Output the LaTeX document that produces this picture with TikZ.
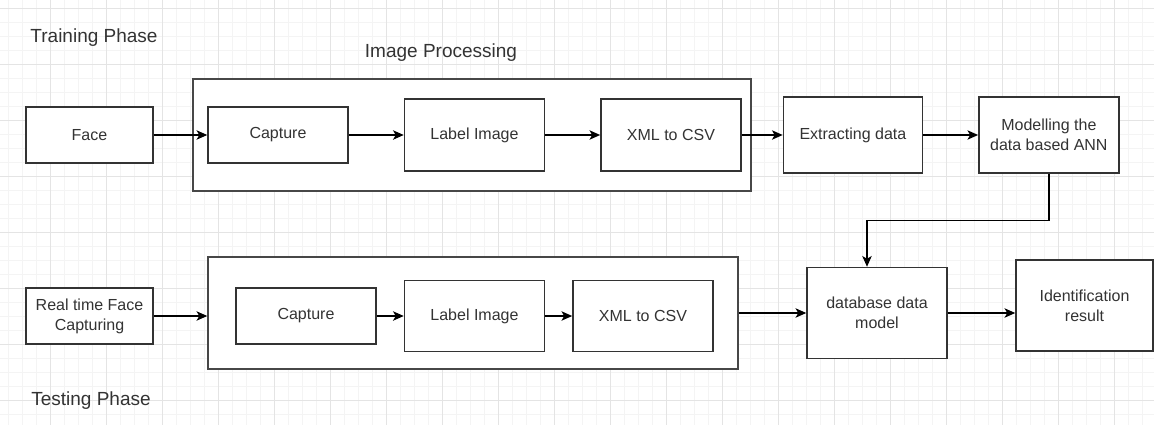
\documentclass[tikz,border=0pt]{standalone}
\usepackage{fontspec}
\setmainfont{Liberation Sans}
\usetikzlibrary{positioning, arrows.meta}
\definecolor{gridminor}{RGB}{244,244,244}
\definecolor{gridmajor}{RGB}{228,228,228}
\definecolor{boxline}{RGB}{51,51,51}
\definecolor{textgray}{RGB}{51,51,51}

\begin{document}
\begin{tikzpicture}[x=0.75pt, y=-0.75pt,
    stage/.style={rectangle, draw=boxline, line width=1.1pt, fill=white, text=textgray, font=\fontsize{12}{15}\selectfont, align=center, minimum width=105pt},
    frame/.style={rectangle, draw=boxline!90, line width=1.1pt, fill=white},
    phase/.style={text=textgray, font=\fontsize{14.25}{17}\selectfont},
    flow/.style={-{Stealth[length=8pt, width=7pt, inset=2pt]}, line width=1.1pt, black}]
    \useasboundingbox (0,0) rectangle (1154,425);

    % Background grid
    \foreach \x in {8,22,...,1154} \draw[gridminor, line width=0.75pt] (\x,0) -- (\x,425);
    \foreach \y in {8,22,...,425} \draw[gridminor, line width=0.75pt] (0,\y) -- (1154,\y);
    \foreach \x in {50,106,...,1154} \draw[gridmajor, line width=0.75pt] (\x,0) -- (\x,425);
    \foreach \y in {8,64,...,425} \draw[gridmajor, line width=0.75pt] (0,\y) -- (1154,\y);

    % Training phase
    \node[phase] (trainlbl) at (94,38) {Training Phase};
    \node[frame, minimum width=418.5pt, minimum height=84pt] (trainbox) at (472,135) {};
    \node[phase] (iplbl) at (441,53) {Image Processing};
    \node[stage, minimum width=95.25pt, minimum height=42pt] (face) at (89.5,135) {Face};
    \node[stage, minimum height=42pt] (capA) at (278,135) {Capture};
    \node[stage, minimum height=54pt, right=41.25pt of capA] (labelA) {Label Image};
    \node[stage, minimum height=54pt, right=41.25pt of labelA] (xmlA) {XML to CSV};
    \node[stage, minimum width=104.25pt, minimum height=57pt, right=30.75pt of xmlA] (extract) {Extracting data};
    \node[stage, minimum height=57pt, right=41.25pt of extract] (model) {Modelling the\\data based ANN};

    % Testing phase
    \node[frame, minimum width=397.5pt, minimum height=84pt] (testbox) at (473,313) {};
    \node[stage, minimum width=95.25pt, minimum height=42pt] (rtface) at (89.5,316) {Real time Face\\Capturing};
    \node[stage, minimum height=42pt] (capB) at (306,316) {Capture};
    \node[stage, minimum height=53.25pt, right=20.25pt of capB] (labelB) {Label Image};
    \node[stage, minimum height=53.25pt, right=20.25pt of labelB] (xmlB) {XML to CSV};
    \node[stage, minimum height=68.25pt] (dbmodel) at (877,313) {database data\\model};
    \node[stage, minimum width=102.75pt, minimum height=68.25pt] (ident) at (1084.5,305.5) {Identification\\result};
    \node[phase] (testlbl) at (91,401) {Testing Phase};

    % Arrows
    \draw[flow] (face) -- (capA);
    \draw[flow] (capA) -- (labelA);
    \draw[flow] (labelA) -- (xmlA);
    \draw[flow] (xmlA) -- (extract);
    \draw[flow] (extract) -- (model);
    \draw[flow] (model.south) -- ++(0,47) -| ([xshift=-7.5pt]dbmodel.north);

    \draw[flow] (rtface) -- (rtface -| testbox.west);
    \draw[flow] (capB) -- (labelB);
    \draw[flow] (labelB) -- (xmlB);
    \draw[flow] (testbox.east) -- (testbox.east -| dbmodel.west);
    \draw[flow] (dbmodel) -- (dbmodel -| ident.west);
\end{tikzpicture}
\end{document}
